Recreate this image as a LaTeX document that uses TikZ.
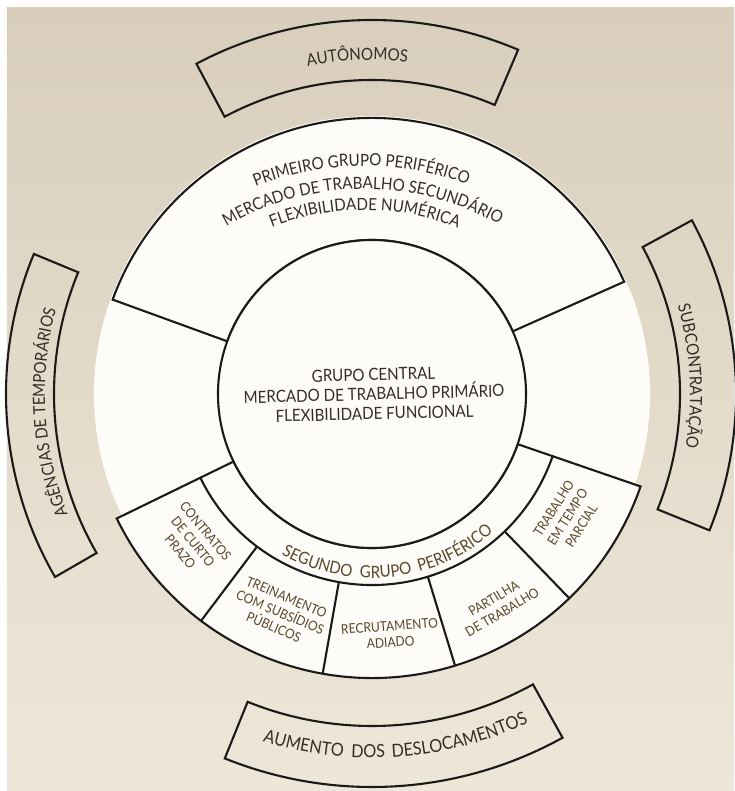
\documentclass[tikz,border=0pt]{standalone}
\usepackage{fontspec}
\setmainfont[FakeStretch=0.9]{Lato}
\usetikzlibrary{decorations.text}
\definecolor{paperTop}{RGB}{217,206,188}
\definecolor{paperBot}{RGB}{238,231,217}
\definecolor{inkline}{RGB}{28,26,24}
\definecolor{inktext}{RGB}{52,45,38}
\definecolor{inkbrown}{RGB}{92,70,42}
\definecolor{diskwhite}{RGB}{253,252,248}
\newcommand\mainfs{\fontsize{16.8}{19.5}\selectfont}
\newcommand\bigfs{\fontsize{18}{20}\selectfont}
\newcommand\subfs{\fontsize{13.4}{16.3}\selectfont}
\tikzset{
  ol/.style={draw=inkline, line width=2.1pt, line join=miter},
  wfill/.style={fill=diskwhite},
  maintxt/.style={text=inktext, font=\mainfs, inner sep=0pt},
  subtxt/.style={text=inkbrown, font=\subfs, align=center, inner sep=0pt},
  arctext/.style={decorate, decoration={text along path, text align=center, text={#1}}},
}
% clockwise arc text (top / sides): centre angle, radius, text
\newcommand\cwtext[3]{\path[arctext={|\mainfs\color{inktext}|#3}]
  (#1+30:#2) arc[start angle=#1+30, end angle=#1-30, radius=#2];}
% counter-clockwise arc text (bottom): centre angle, radius, colour, text
\newcommand\ccwtext[4]{\path[arctext={|\mainfs\color{#3}|#4}]
  (#1-30:#2) arc[start angle=#1-30, end angle=#1+30, radius=#2];}
\newcommand\ccwtextbig[4]{\path[arctext={|\bigfs\color{#3}|#4}]
  (#1-30:#2) arc[start angle=#1-30, end angle=#1+30, radius=#2];}
\begin{document}
\begin{tikzpicture}[x=1pt,y=1pt]
% page
\fill[white] (-372,-397) rectangle (362,394);
\shade[top color=paperTop, bottom color=paperBot] (-365,-397) rectangle (362,386);
\useasboundingbox (-372,-397) rectangle (362,394);
% light area behind the diagram
\fill[diskwhite] (0,0) circle[radius=278];

% primeiro grupo periferico (top sector)
\filldraw[ol, wfill] (24:154) -- (24:276) arc[start angle=24, end angle=160, radius=276]
  -- (160:154) arc[start angle=160, end angle=24, radius=154] -- cycle;

% segundo grupo periferico band + boxes
\filldraw[ol, wfill] (206:154) -- (206:284) arc[start angle=206, end angle=341, radius=284]
  -- (341:154) arc[start angle=341, end angle=206, radius=154] -- cycle;
\draw[ol] (206:191) arc[start angle=206, end angle=341, radius=191];
\foreach \a in {233,260,287,314} \draw[ol] (\a:191) -- (\a:284);

% central circle
\filldraw[ol, wfill] (0,0) circle[radius=154];

% outer boxes
\draw[ol] (118:314) arc[start angle=118, end angle=67, radius=314] -- (67:374)
  arc[start angle=67, end angle=118, radius=374] -- cycle;
\draw[ol] (28.5:308) arc[start angle=28.5, end angle=-22, radius=308] -- (-22:364)
  arc[start angle=-22, end angle=28.5, radius=364] -- cycle;
\draw[ol] (157.5:318) arc[start angle=157.5, end angle=210, radius=318] -- (210:366)
  arc[start angle=210, end angle=157.5, radius=366] -- cycle;
\draw[ol] (248:332) arc[start angle=248, end angle=299, radius=332] -- (299:393)
  arc[start angle=299, end angle=248, radius=393] -- cycle;

% curved texts
\cwtext{92.5}{334}{AUTÔNOMOS}
\cwtext{3.2}{318}{SUBCONTRATAÇÃO}
\cwtext{183.3}{327}{AGÊNCIAS DE TEMPORÁRIOS}
\ccwtextbig{259.0}{364}{inktext}{AUMENTO}
\ccwtextbig{269.4}{364}{inktext}{DOS}
\ccwtextbig{284.3}{364}{inktext}{DESLOCAMENTOS}
\ccwtext{252.1}{184}{inkbrown}{SEGUNDO}
\ccwtext{274.4}{184}{inkbrown}{GRUPO}
\ccwtext{298.1}{184}{inkbrown}{PERIFÉRICO}
\begin{scope}[shift={(-8,-68)}]
\cwtext{90.5}{296}{PRIMEIRO GRUPO PERIFÉRICO}
\cwtext{90.3}{273}{MERCADO DE TRABALHO SECUNDÁRIO}
\cwtext{89.8}{252}{FLEXIBILIDADE NUMÉRICA}
\end{scope}

% central text
\node[maintxt, align=center, rotate=1.5] (central) at (2,0)
  {GRUPO CENTRAL\\MERCADO DE TRABALHO PRIMÁRIO\\FLEXIBILIDADE FUNCIONAL};

% sub-box texts
\node[subtxt, rotate=309.5] (contratos) at (219.5:232) {CONTRATOS\\DE CURTO\\PRAZO};
\node[subtxt, rotate=337] (treinamento) at (247.2:237) {TREINAMENTO\\COM SUBSÍDIOS\\PÚBLICOS};
\node[subtxt, rotate=4] (recrutamento) at (274.3:241) {RECRUTAMENTO\\ADIADO};
\node[subtxt, rotate=30.8] (partilha) at (300.8:246) {PARTILHA\\DE TRABALHO};
\node[subtxt, rotate=57.8] (parcial) at (327.8:231) {TRABALHO\\EM TEMPO\\PARCIAL};
\end{tikzpicture}
\end{document}
